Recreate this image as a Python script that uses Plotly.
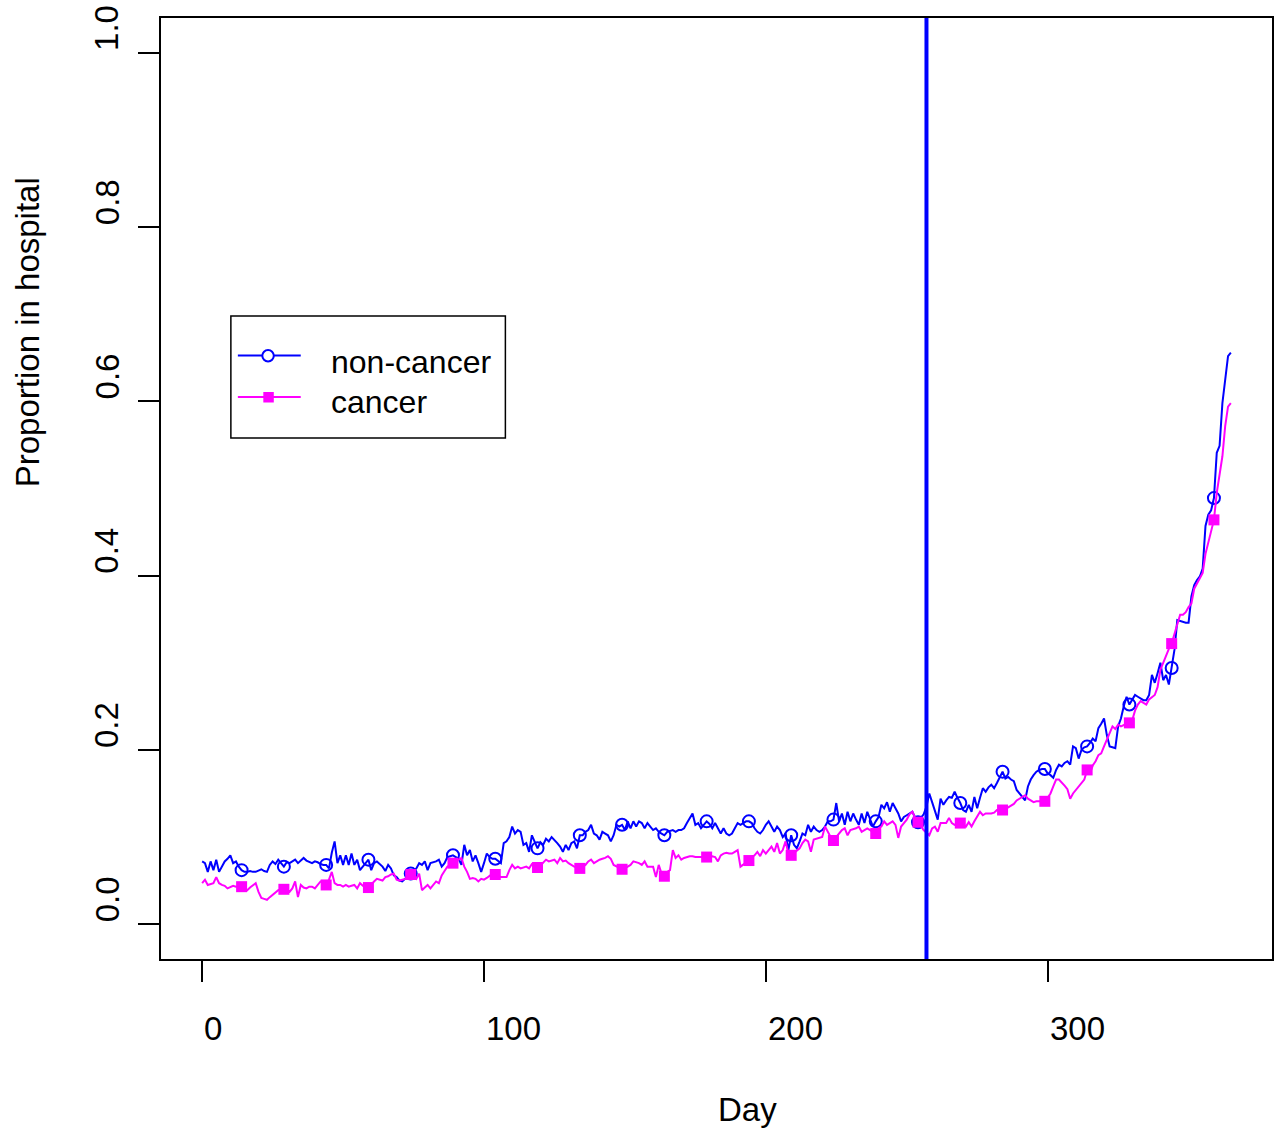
import plotly.graph_objects as go

# ---------------- data ----------------
days = list(range(366))

non_cancer = [
    0.072, 0.070, 0.060, 0.072, 0.062, 0.074, 0.060, 0.066, 0.072, 0.075,
    0.079, 0.070, 0.072, 0.066, 0.062, 0.060, 0.060, 0.061, 0.060, 0.060,
    0.062, 0.063, 0.061, 0.060, 0.068, 0.072, 0.069, 0.074, 0.070, 0.066,
    0.071, 0.070, 0.072, 0.074, 0.070, 0.073, 0.076, 0.073, 0.071, 0.070,
    0.072, 0.071, 0.069, 0.068, 0.068, 0.064, 0.082, 0.095, 0.070, 0.079,
    0.068, 0.079, 0.068, 0.081, 0.068, 0.074, 0.062, 0.066, 0.070, 0.074,
    0.062, 0.070, 0.072, 0.069, 0.066, 0.061, 0.068, 0.064, 0.056, 0.054,
    0.050, 0.049, 0.052, 0.055, 0.058, 0.061, 0.064, 0.070, 0.068, 0.072,
    0.062, 0.070, 0.071, 0.072, 0.074, 0.066, 0.070, 0.077, 0.078, 0.079,
    0.077, 0.075, 0.068, 0.091, 0.079, 0.085, 0.072, 0.079, 0.070, 0.060,
    0.070, 0.081, 0.077, 0.075, 0.075, 0.072, 0.070, 0.093, 0.095, 0.100,
    0.112, 0.104, 0.108, 0.106, 0.091, 0.093, 0.083, 0.102, 0.095, 0.087,
    0.094, 0.091, 0.098, 0.095, 0.100, 0.097, 0.093, 0.089, 0.083, 0.091,
    0.085, 0.093, 0.095, 0.087, 0.102, 0.102, 0.106, 0.108, 0.114, 0.104,
    0.102, 0.097, 0.106, 0.104, 0.102, 0.095, 0.102, 0.114, 0.112, 0.114,
    0.108, 0.118, 0.110, 0.118, 0.112, 0.118, 0.116, 0.110, 0.116, 0.112,
    0.108, 0.110, 0.106, 0.104, 0.102, 0.106, 0.107, 0.108, 0.106, 0.108,
    0.108, 0.110, 0.116, 0.122, 0.127, 0.114, 0.116, 0.110, 0.114, 0.118,
    0.115, 0.110, 0.116, 0.110, 0.104, 0.110, 0.104, 0.102, 0.104, 0.110,
    0.116, 0.114, 0.116, 0.118, 0.118, 0.116, 0.110, 0.106, 0.104, 0.108,
    0.114, 0.118, 0.112, 0.106, 0.112, 0.108, 0.100, 0.104, 0.085, 0.102,
    0.091, 0.087, 0.095, 0.104, 0.102, 0.114, 0.106, 0.112, 0.108, 0.106,
    0.108, 0.112, 0.118, 0.118, 0.120, 0.139, 0.118, 0.127, 0.114, 0.129,
    0.118, 0.127, 0.120, 0.114, 0.127, 0.116, 0.129, 0.120, 0.112, 0.118,
    0.123, 0.137, 0.133, 0.140, 0.129, 0.139, 0.133, 0.127, 0.118, 0.123,
    0.125, 0.127, 0.129, 0.122, 0.117, 0.122, 0.126, 0.135, 0.150, 0.140,
    0.131, 0.120, 0.144, 0.137, 0.142, 0.146, 0.145, 0.152, 0.145, 0.139,
    0.131, 0.129, 0.137, 0.129, 0.146, 0.133, 0.145, 0.156, 0.152, 0.157,
    0.160, 0.156, 0.162, 0.168, 0.175, 0.167, 0.169, 0.166, 0.164, 0.154,
    0.150, 0.146, 0.142, 0.158, 0.166, 0.171, 0.175, 0.177, 0.178, 0.178,
    0.173, 0.171, 0.168, 0.177, 0.183, 0.181, 0.185, 0.187, 0.183, 0.204,
    0.202, 0.190, 0.200, 0.203, 0.204, 0.208, 0.213, 0.210, 0.225, 0.230,
    0.236, 0.217, 0.204, 0.203, 0.202, 0.227, 0.236, 0.250, 0.261, 0.252,
    0.257, 0.263, 0.261, 0.259, 0.257, 0.257, 0.263, 0.286, 0.277, 0.288,
    0.300, 0.280, 0.286, 0.275, 0.294, 0.315, 0.349, 0.348, 0.347, 0.346,
    0.346, 0.376, 0.389, 0.395, 0.399, 0.408, 0.457, 0.470, 0.475, 0.489,
    0.541, 0.549, 0.598, 0.629, 0.652, 0.656,
]

cancer = [
    0.047, 0.051, 0.045, 0.046, 0.047, 0.054, 0.047, 0.045, 0.044, 0.041,
    0.043, 0.044, 0.043, 0.043, 0.043, 0.041, 0.039, 0.042, 0.045, 0.047,
    0.037, 0.030, 0.029, 0.028, 0.031, 0.034, 0.037, 0.039, 0.040, 0.040,
    0.039, 0.037, 0.041, 0.049, 0.031, 0.045, 0.042, 0.041, 0.043, 0.043,
    0.041, 0.045, 0.049, 0.047, 0.045, 0.051, 0.060, 0.047, 0.045, 0.045,
    0.043, 0.045, 0.043, 0.044, 0.045, 0.041, 0.047, 0.044, 0.042, 0.042,
    0.046, 0.049, 0.052, 0.051, 0.050, 0.054, 0.055, 0.057, 0.058, 0.051,
    0.050, 0.051, 0.052, 0.054, 0.057, 0.055, 0.052, 0.058, 0.039, 0.042,
    0.045, 0.041, 0.045, 0.049, 0.047, 0.056, 0.061, 0.066, 0.068, 0.070,
    0.072, 0.074, 0.076, 0.066, 0.060, 0.052, 0.053, 0.052, 0.049, 0.052,
    0.051, 0.053, 0.056, 0.058, 0.057, 0.055, 0.054, 0.054, 0.054, 0.062,
    0.068, 0.064, 0.066, 0.064, 0.065, 0.066, 0.064, 0.069, 0.067, 0.065,
    0.067, 0.070, 0.074, 0.072, 0.073, 0.074, 0.070, 0.076, 0.072, 0.073,
    0.070, 0.068, 0.066, 0.065, 0.064, 0.066, 0.068, 0.072, 0.074, 0.070,
    0.072, 0.074, 0.075, 0.076, 0.078, 0.075, 0.068, 0.066, 0.064, 0.063,
    0.064, 0.066, 0.068, 0.072, 0.071, 0.070, 0.068, 0.072, 0.066, 0.066,
    0.066, 0.054, 0.068, 0.058, 0.055, 0.060, 0.062, 0.085, 0.076, 0.079,
    0.074, 0.076, 0.077, 0.078, 0.078, 0.077, 0.077, 0.077, 0.077, 0.077,
    0.077, 0.078, 0.077, 0.072, 0.079, 0.081, 0.082, 0.081, 0.081, 0.083,
    0.085, 0.066, 0.068, 0.070, 0.073, 0.077, 0.079, 0.083, 0.078, 0.085,
    0.081, 0.085, 0.089, 0.083, 0.093, 0.081, 0.085, 0.095, 0.081, 0.079,
    0.082, 0.085, 0.087, 0.093, 0.097, 0.095, 0.083, 0.097, 0.098, 0.099,
    0.100, 0.112, 0.105, 0.100, 0.096, 0.100, 0.105, 0.108, 0.110, 0.102,
    0.108, 0.109, 0.110, 0.112, 0.106, 0.108, 0.110, 0.108, 0.106, 0.104,
    0.110, 0.112, 0.118, 0.114, 0.116, 0.118, 0.114, 0.099, 0.112, 0.116,
    0.120, 0.126, 0.129, 0.122, 0.117, 0.112, 0.108, 0.105, 0.102, 0.110,
    0.112, 0.106, 0.116, 0.116, 0.116, 0.122, 0.116, 0.114, 0.115, 0.116,
    0.114, 0.112, 0.117, 0.112, 0.118, 0.123, 0.129, 0.125, 0.127, 0.127,
    0.127, 0.128, 0.131, 0.131, 0.131, 0.132, 0.134, 0.136, 0.138, 0.142,
    0.144, 0.146, 0.148, 0.144, 0.142, 0.140, 0.141, 0.141, 0.141, 0.141,
    0.145, 0.150, 0.158, 0.166, 0.166, 0.163, 0.159, 0.155, 0.144, 0.150,
    0.154, 0.158, 0.162, 0.166, 0.177, 0.173, 0.182, 0.187, 0.194, 0.196,
    0.204, 0.212, 0.220, 0.227, 0.224, 0.229, 0.227, 0.229, 0.230, 0.231,
    0.234, 0.245, 0.252, 0.256, 0.254, 0.252, 0.258, 0.261, 0.263, 0.272,
    0.292, 0.300, 0.309, 0.316, 0.322, 0.333, 0.345, 0.355, 0.355, 0.358,
    0.364, 0.368, 0.385, 0.391, 0.397, 0.403, 0.425, 0.437, 0.450, 0.464,
    0.495, 0.514, 0.537, 0.572, 0.594, 0.598,
]

marker_idx = list(range(14, 366, 15))      # symbols every 15 days
x_ticks = [0, 100, 200, 300]
x_tick_labels = ["0", "100", "200", "300"]
y_ticks = [0.0, 0.2, 0.4, 0.6, 0.8, 1.0]
y_tick_labels = ["0.0", "0.2", "0.4", "0.6", "0.8", "1.0"]
cutoff_day = 257
series_names = ["non-cancer", "cancer"]

# ---------------- layout geometry ----------------
W, H = 1283, 1133
L, R, T, B = 161, 9, 18, 174
PW, PH = W - L - R, H - T - B


def pxx(x):
    return (x - L) / PW


def pxy(y):
    return (H - B - y) / PH


BLUE = "#0000FF"
MAG = "#FF00FF"
FONT = "Liberation Sans, Arial, sans-serif"
FS = 33
FS_LEG = 32

fig = go.Figure()
fig.add_trace(go.Scatter(x=days, y=non_cancer, mode="lines",
                         line=dict(color=BLUE, width=2), name=series_names[0]))
fig.add_trace(go.Scatter(x=[days[i] for i in marker_idx],
                         y=[non_cancer[i] for i in marker_idx], mode="markers",
                         marker=dict(symbol="circle-open", size=12, color=BLUE,
                                     line=dict(width=2, color=BLUE))))
fig.add_trace(go.Scatter(x=days, y=cancer, mode="lines",
                         line=dict(color=MAG, width=2), name=series_names[1]))
fig.add_trace(go.Scatter(x=[days[i] for i in marker_idx],
                         y=[cancer[i] for i in marker_idx], mode="markers",
                         marker=dict(symbol="square", size=11, color=MAG)))

shapes = []
# vertical reference line
shapes.append(dict(type="line", xref="x", yref="paper", x0=cutoff_day, x1=cutoff_day,
                   y0=0, y1=1, line=dict(color=BLUE, width=4), layer="above"))
# legend box
shapes.append(dict(type="rect", xref="paper", yref="paper",
                   x0=pxx(231), x1=pxx(506), y0=pxy(438), y1=pxy(316),
                   line=dict(color="black", width=1.5), fillcolor="white", layer="above"))
shapes.append(dict(type="line", xref="paper", yref="paper",
                   x0=pxx(238), x1=pxx(301), y0=pxy(355.5), y1=pxy(355.5),
                   line=dict(color=BLUE, width=2), layer="above"))
shapes.append(dict(type="circle", xref="paper", yref="paper",
                   x0=pxx(262.5), x1=pxx(274), y0=pxy(361.5), y1=pxy(350),
                   line=dict(color=BLUE, width=2), fillcolor="white", layer="above"))
shapes.append(dict(type="line", xref="paper", yref="paper",
                   x0=pxx(238), x1=pxx(301), y0=pxy(397), y1=pxy(397),
                   line=dict(color=MAG, width=2), layer="above"))
shapes.append(dict(type="rect", xref="paper", yref="paper",
                   x0=pxx(263.5), x1=pxx(274), y0=pxy(402.5), y1=pxy(392),
                   line=dict(color=MAG, width=0), fillcolor=MAG, layer="above"))

ann = []
for v, t in zip(x_ticks, x_tick_labels):
    ann.append(dict(x=v, xref="x", y=pxy(1028), yref="paper", text=t,
                    xanchor="left", yanchor="middle", showarrow=False,
                    font=dict(family=FONT, size=FS, color="black")))
for v, t in zip(y_ticks, y_tick_labels):
    ann.append(dict(x=pxx(107), xref="paper", y=v, yref="y", text=t, textangle=-90,
                    xanchor="center", yanchor="bottom", showarrow=False,
                    font=dict(family=FONT, size=FS, color="black")))
ann.append(dict(x=pxx(717), xref="paper", y=pxy(1109), yref="paper", text="Day",
                xanchor="left", yanchor="middle", showarrow=False,
                font=dict(family=FONT, size=FS, color="black")))
ann.append(dict(x=pxx(27), xref="paper", y=pxy(489), yref="paper",
                text="Proportion in hospital", textangle=-90,
                xanchor="center", yanchor="bottom", showarrow=False,
                font=dict(family=FONT, size=FS, color="black")))
ann.append(dict(x=pxx(329), xref="paper", y=pxy(362), yref="paper", text=series_names[0],
                xanchor="left", yanchor="middle", showarrow=False,
                font=dict(family=FONT, size=FS_LEG, color="black")))
ann.append(dict(x=pxx(329), xref="paper", y=pxy(402), yref="paper", text=series_names[1],
                xanchor="left", yanchor="middle", showarrow=False,
                font=dict(family=FONT, size=FS_LEG, color="black")))

axis_common = dict(showgrid=False, zeroline=False, showline=True, linecolor="black",
                   linewidth=1.5, mirror=True, ticks="outside", ticklen=21,
                   tickwidth=1.5, tickcolor="black", showticklabels=False)

fig.update_layout(
    width=W, height=H,
    margin=dict(l=L, r=R, t=T, b=B, pad=0),
    paper_bgcolor="white", plot_bgcolor="white",
    showlegend=False,
    xaxis=dict(range=[-14.6, 379.6], tickvals=x_ticks, **axis_common),
    yaxis=dict(range=[-0.04, 1.04], tickvals=y_ticks, **axis_common),
    shapes=shapes,
    annotations=ann,
    font=dict(family=FONT, size=FS, color="black"),
)

fig.write_html("out.html", config={"displayModeBar": False},
               post_script="document.body.style.margin='0';document.body.style.padding='0';")
